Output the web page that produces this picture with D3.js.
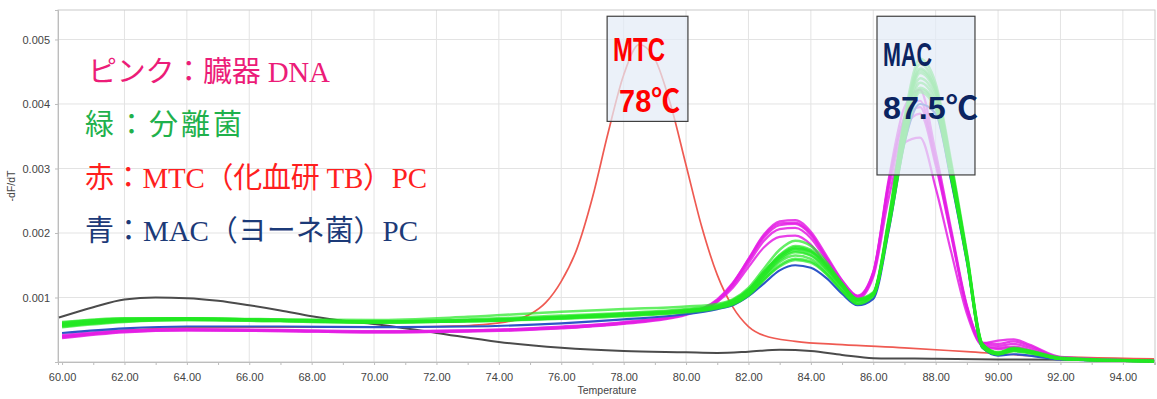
<!DOCTYPE html>
<html>
<head>
<meta charset="utf-8">
<script src="https://cdn.jsdelivr.net/npm/d3@7.9.0/dist/d3.min.js"></script>
<style>
  html, body { margin: 0; padding: 0; background: #fff; }
  svg { display: block; }
</style>
</head>
<body>
<svg id="chart" width="1157" height="399"></svg>
<script>
// values below are -dF/dT in units of 1e-3
const UNIT = 1e-3;

// shared temperature grid for the sample curves
const temps = [60, 62, 64, 67, 70, 73, 76, 78, 80, 81, 81.5, 82, 82.5, 83, 83.5, 84, 84.5, 85, 85.5, 86,
  86.5, 87, 87.5, 88, 88.5, 89, 89.5, 90, 90.5, 91, 92, 95];

// 緑：分離菌
const greenCurves = [
  [.58, .66, .68, .66, .63, .65, .70, .74, .80, .86, .93, 1.10, 1.38, 1.66, 1.80, 1.74, 1.52, 1.22, .98, 1.08, 2.25, 3.80, 4.70, 4.32, 3.10, 1.70, .28, .14, .20, .17, .06, .01],
  [.60, .67, .67, .64, .62, .64, .69, .73, .79, .85, .92, 1.08, 1.34, 1.60, 1.72, 1.66, 1.45, 1.17, .95, 1.06, 2.22, 3.74, 4.62, 4.26, 3.05, 1.66, .26, .13, .19, .16, .05, .01],
  [.55, .64, .66, .66, .65, .70, .78, .82, .86, .90, .97, 1.15, 1.45, 1.74, 1.88, 1.80, 1.55, 1.22, .97, 1.05, 2.18, 3.68, 4.55, 4.22, 3.02, 1.66, .28, .15, .22, .18, .07, .02],
  [.57, .63, .65, .63, .61, .63, .68, .72, .78, .84, .90, 1.05, 1.30, 1.55, 1.65, 1.60, 1.40, 1.12, .92, 1.04, 2.20, 3.64, 4.48, 4.16, 2.98, 1.62, .24, .12, .18, .15, .05, .01],
  [.62, .68, .68, .65, .62, .64, .70, .75, .81, .87, .95, 1.12, 1.40, 1.65, 1.78, 1.72, 1.50, 1.20, .97, 1.07, 2.16, 3.58, 4.40, 4.10, 2.95, 1.63, .26, .14, .21, .17, .06, .02],
  [.54, .62, .65, .64, .62, .63, .67, .71, .77, .83, .89, 1.03, 1.27, 1.50, 1.60, 1.56, 1.37, 1.10, .90, 1.02, 2.14, 3.52, 4.33, 4.04, 2.90, 1.60, .23, .12, .17, .14, .05, .01],
  [.59, .65, .66, .64, .61, .63, .68, .73, .79, .85, .92, 1.07, 1.33, 1.58, 1.70, 1.65, 1.44, 1.16, .94, 1.05, 2.12, 3.46, 4.25, 3.98, 2.88, 1.60, .25, .13, .19, .16, .05, .01],
  [.56, .63, .66, .64, .62, .64, .69, .73, .78, .84, .90, 1.04, 1.28, 1.48, 1.58, 1.54, 1.36, 1.10, .90, 1.03, 2.08, 3.40, 4.18, 3.92, 2.84, 1.58, .22, .12, .17, .14, .05, .01],
  [.61, .67, .68, .65, .63, .66, .72, .76, .82, .88, .96, 1.12, 1.40, 1.63, 1.75, 1.70, 1.48, 1.18, .96, 1.06, 2.10, 3.44, 4.22, 3.96, 2.86, 1.60, .27, .14, .20, .16, .06, .02],
  [.58, .64, .67, .65, .62, .64, .69, .74, .80, .86, .94, 1.10, 1.36, 1.62, 1.76, 1.71, 1.49, 1.19, .96, 1.06, 2.20, 3.70, 4.52, 4.20, 3.00, 1.64, .25, .13, .19, .16, .05, .01]
];

// ピンク：臓器 DNA
const pinkCurves = [
  [.38, .47, .50, .49, .47, .48, .53, .60, .74, .95, 1.22, 1.60, 1.98, 2.18, 2.20, 2.02, 1.65, 1.27, 1.03, 1.40, 2.85, 3.95, 4.22, 3.25, 2.05, .88, .30, .28, .32, .25, .07, .02],
  [.40, .48, .50, .49, .47, .49, .54, .61, .75, .96, 1.21, 1.57, 1.93, 2.12, 2.14, 1.97, 1.60, 1.24, 1.01, 1.38, 2.78, 3.80, 4.05, 3.15, 2.00, .85, .28, .25, .28, .22, .06, .02],
  [.37, .46, .49, .48, .46, .48, .53, .60, .74, .94, 1.18, 1.53, 1.88, 2.06, 2.08, 1.92, 1.57, 1.22, 1.00, 1.35, 2.70, 3.62, 3.85, 3.05, 1.95, .82, .26, .22, .24, .19, .05, .02],
  [.39, .47, .49, .48, .46, .47, .52, .59, .73, .93, 1.15, 1.47, 1.78, 1.94, 1.96, 1.82, 1.50, 1.18, .98, 1.32, 2.55, 3.40, 3.48, 2.70, 1.70, .75, .25, .20, .22, .17, .05, .01],
  [.42, .49, .51, .50, .48, .49, .55, .62, .76, .97, 1.23, 1.59, 1.96, 2.15, 2.16, 1.99, 1.62, 1.26, 1.02, 1.39, 2.80, 3.75, 3.95, 3.10, 1.98, .86, .29, .33, .35, .27, .08, .02]
];

// 青：MAC（ヨーネ菌）PC
const blueCurve = [.45, .52, .55, .55, .54, .55, .60, .66, .74, .82, .88, 1.02, 1.22, 1.42, 1.50, 1.46, 1.30, 1.06, .88, .98, 2.05, 3.40, 4.00, 3.85, 2.80, 1.55, .22, .10, .12, .10, .04, .01];

// 赤：MTC（化血研 TB）PC
const redTemps = [60, 61, 62, 64, 67, 70, 72, 73.5, 74.5, 75, 75.5, 76, 76.5, 77, 77.5, 78, 78.5, 79, 79.5, 80,
  80.5, 81, 81.5, 82, 82.5, 83.5, 85, 87, 89, 91, 95];
const redCurve = [.39, .44, .49, .53, .54, .54, .55, .58, .65, .74, .92, 1.25, 1.75, 2.55, 3.55, 4.45, 4.92, 4.70, 4.00, 3.05,
  2.10, 1.35, .85, .55, .41, .32, .27, .22, .16, .10, .05];

// grey trace
const greyTemps = [59.9, 61, 62, 63, 64, 65, 66, 67, 68, 69, 70, 72, 74, 76, 78, 80, 81, 82, 83, 84, 85, 86, 88, 90, 95];
const greyCurve = [.69, .85, .97, 1.0, .99, .95, .88, .80, .71, .64, .59, .45, .31, .22, .17, .15, .14, .16, .19, .17, .11, .06, .05, .04, .03];

const xTicks = [60, 62, 64, 66, 68, 70, 72, 74, 76, 78, 80, 82, 84, 86, 88, 90, 92, 94];
const xMinorTicks = [61, 63, 65, 67, 69, 71, 73, 75, 77, 79, 81, 83, 85, 87, 89, 91, 93, 95];
const yTicks = [0.001, 0.002, 0.003, 0.004, 0.005];

const legendLines = ['ピンク：臓器 DNA', '緑：分離菌', '赤：MTC（化血研 TB）PC', '青：MAC（ヨーネ菌）PC'];
const legendColors = ['#ec1c78', '#1fb14c', '#ff1f1f', '#1c3a78'];

const peakBoxes = [
  { name: 'MTC', temp: '78℃', t0: 77.47, t1: 80.06, top: 0.00536, bottom: 0.00373, color: '#ff0000' },
  { name: 'MAC', temp: '87.5℃', t0: 86.12, t1: 89.26, top: 0.00536, bottom: 0.0029, color: '#0b2461' }
];

const svg = d3.select('#chart');
svg.append('rect').attr('width', 1157).attr('height', 399).attr('fill', '#fff');

const x = d3.scaleLinear().domain([59.87, 95.03]).range([58, 1155]);
const y = d3.scaleLinear().domain([0, 0.005457]).range([362, 10]);

// grid
const grid = svg.append('g');
grid.selectAll('.vg').data(xTicks.slice(1)).join('line')
  .attr('x1', d => x(d)).attr('x2', d => x(d))
  .attr('y1', y.range()[1]).attr('y2', y.range()[0])
  .attr('stroke', '#e3e3e3');
grid.selectAll('.hg').data(yTicks).join('line')
  .attr('x1', x.range()[0]).attr('x2', x.range()[1])
  .attr('y1', d => y(d)).attr('y2', d => y(d))
  .attr('stroke', '#e3e3e3');
grid.append('rect')
  .attr('x', x.range()[0]).attr('y', y.range()[1])
  .attr('width', x.range()[1] - x.range()[0]).attr('height', y.range()[0] - y.range()[1])
  .attr('fill', 'none').attr('stroke', '#c9c9c9');

// axes
const xAxis = svg.append('g').attr('transform', `translate(0,${y(0)})`)
  .call(d3.axisBottom(x).tickValues(xTicks).tickFormat(d3.format('.2f')).tickSize(3).tickPadding(8));
svg.append('g').attr('transform', `translate(0,${y(0)})`)
  .call(d3.axisBottom(x).tickValues(xMinorTicks).tickFormat('').tickSize(3))
  .select('.domain').remove();
const yAxis = svg.append('g').attr('transform', `translate(${x.range()[0]},0)`)
  .call(d3.axisLeft(y).tickValues(yTicks).tickFormat(d3.format('.3f')).tickSize(3).tickPadding(5));

svg.selectAll('.domain').attr('stroke', '#bdbdbd');
svg.selectAll('.tick line').attr('stroke', '#bdbdbd');
svg.selectAll('.tick text')
  .attr('font-family', 'Liberation Sans, Arial, sans-serif')
  .attr('font-size', 11).attr('fill', '#444');

svg.append('text')
  .attr('x', 607).attr('y', 394).attr('text-anchor', 'middle')
  .attr('font-family', 'Liberation Sans, Arial, sans-serif').attr('font-size', 10.5).attr('fill', '#444')
  .text('Temperature');
svg.append('text')
  .attr('transform', 'translate(15,186) rotate(-90)').attr('text-anchor', 'middle')
  .attr('font-family', 'Liberation Sans, Arial, sans-serif').attr('font-size', 10.5).attr('fill', '#444')
  .text('-dF/dT');

// curves
const line = d3.line()
  .x(d => x(d[0]))
  .y(d => y(d[1] * UNIT))
  .curve(d3.curveMonotoneX);

const plot = svg.append('g');

plot.append('path')
  .attr('d', line(d3.zip(greyTemps, greyCurve)))
  .attr('fill', 'none').attr('stroke', '#4b4b4b').attr('stroke-width', 2);

plot.append('path')
  .attr('d', line(d3.zip(redTemps, redCurve)))
  .attr('fill', 'none').attr('stroke', '#ef5a52').attr('stroke-width', 1.7);

pinkCurves.forEach((c) => {
  plot.append('path')
    .attr('d', line(d3.zip(temps, c)))
    .attr('fill', 'none').attr('stroke', '#e41fe4').attr('stroke-width', 2.2)
    .attr('stroke-opacity', 0.85);
});

plot.append('path')
  .attr('d', line(d3.zip(temps, blueCurve)))
  .attr('fill', 'none').attr('stroke', '#2d55c8').attr('stroke-width', 2.2);

greenCurves.forEach((c) => {
  plot.append('path')
    .attr('d', line(d3.zip(temps, c)))
    .attr('fill', 'none').attr('stroke', '#22e822').attr('stroke-width', 2.5)
    .attr('stroke-opacity', 0.7);
});

// peak annotations
peakBoxes.forEach((b) => {
  const bx = x(b.t0), by = y(b.top);
  const bw = x(b.t1) - bx, bh = y(b.bottom) - by;
  svg.append('rect')
    .attr('x', bx).attr('y', by).attr('width', bw).attr('height', bh)
    .attr('fill', '#e3ecf7').attr('fill-opacity', 0.72)
    .attr('stroke', '#404040').attr('stroke-width', 1.2);
  const isMac = b.name === 'MAC';
  svg.append('text')
    .attr('x', bx + 6).attr('y', by + (isMac ? 50 : 45))
    .attr('font-family', 'Liberation Sans Narrow, Liberation Sans, Noto Sans CJK JP, sans-serif')
    .attr('font-weight', 'bold').attr('font-size', 33).attr('fill', b.color)
    .attr('textLength', isMac ? 49 : 52).attr('lengthAdjust', 'spacingAndGlyphs')
    .text(b.name);
  svg.append('text')
    .attr('x', bx + (isMac ? 6 : 12)).attr('y', by + (isMac ? 103 : 96))
    .attr('font-family', 'Liberation Sans Narrow, Liberation Sans, Noto Sans CJK JP, sans-serif')
    .attr('font-weight', 'bold').attr('font-size', 32).attr('fill', b.color)
    .attr('textLength', isMac ? 95 : 61).attr('lengthAdjust', 'spacingAndGlyphs')
    .text(b.temp);
});

// legend text
const legendWidths = [242, 157, 342, 333];
legendLines.forEach((t, i) => {
  svg.append('text')
    .attr('x', i === 0 ? 88 : 85).attr('y', 82 + i * 53)
    .attr('font-family', 'Liberation Serif, Noto Sans CJK JP, serif')
    .attr('font-size', 29).attr('fill', legendColors[i])
    .attr('textLength', legendWidths[i])
    .text(t);
});
</script>
</body>
</html>
